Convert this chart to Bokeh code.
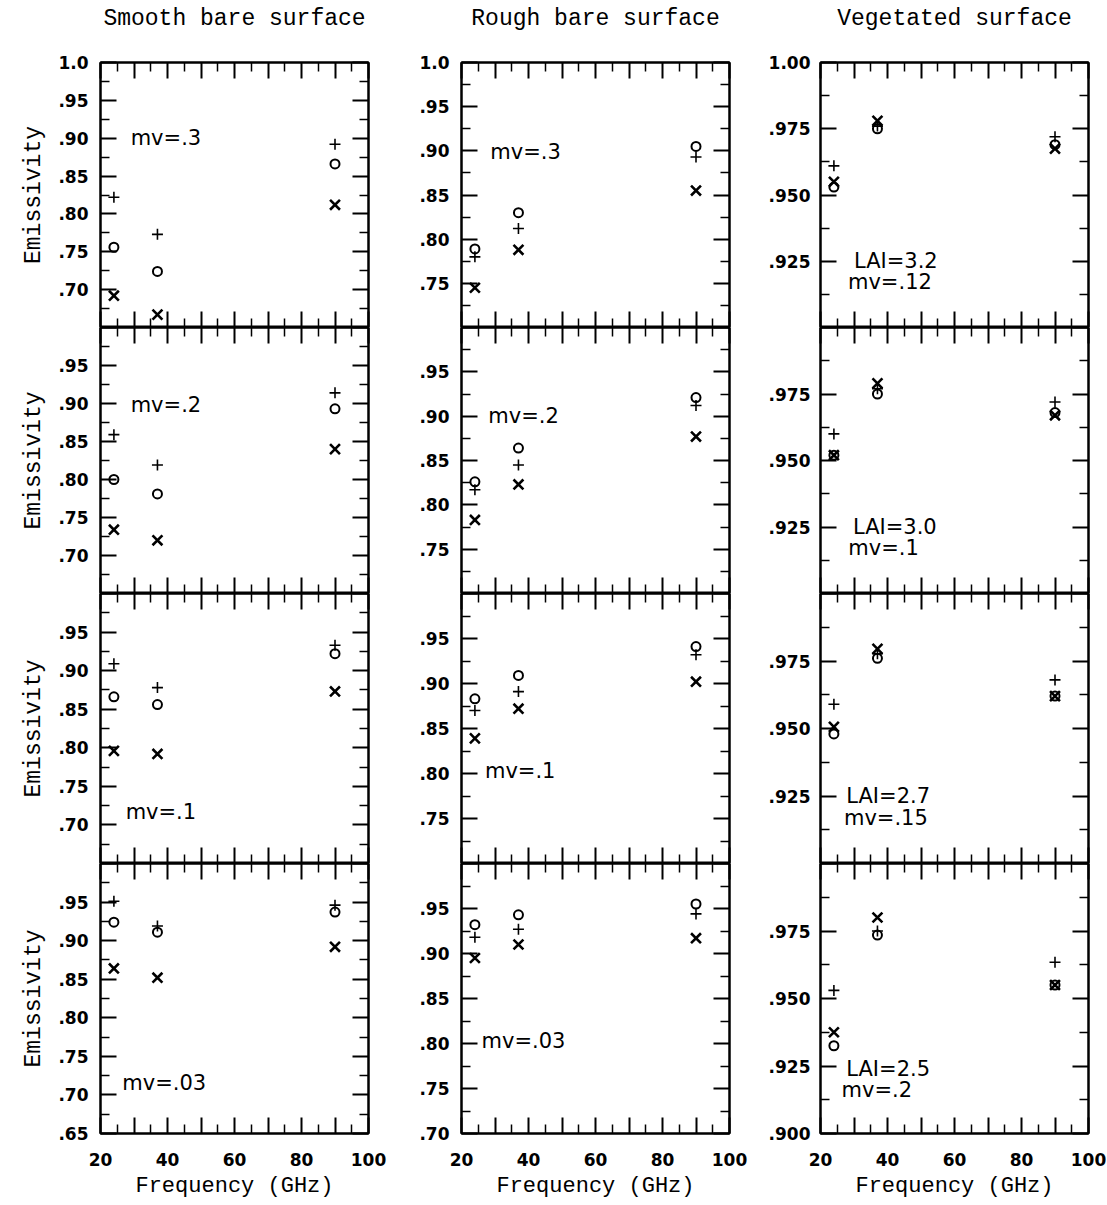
from bokeh.plotting import figure
from bokeh.models import FixedTicker, LinearAxis, Label, Range1d
from bokeh.core.properties import value
from bokeh.layouts import row, column
from bokeh.embed import file_html
from bokeh.resources import INLINE

# ---------------- data ----------------
freq_ghz = [24, 37, 90]

column_titles = ["Smooth bare surface", "Rough bare surface", "Vegetated surface"]

x_range = [20, 100]
x_ticks = [20, 30, 40, 50, 60, 70, 80, 90, 100]
x_minor_ticks = [25, 35, 45, 55, 65, 75, 85, 95]
x_tick_labels = ["20", "", "40", "", "60", "", "80", "", "100"]
x_title = "Frequency (GHz)"
y_title = "Emissivity"

# Smooth bare surface (rows top -> bottom: mv=.3, .2, .1, .03)
smooth_plus = [[0.822, 0.773, 0.892], [0.859, 0.819, 0.914], [0.909, 0.878, 0.933], [0.951, 0.919, 0.946]]
smooth_circle = [[0.756, 0.724, 0.866], [0.800, 0.781, 0.893], [0.866, 0.856, 0.922], [0.924, 0.911, 0.937]]
smooth_cross = [[0.692, 0.667, 0.812], [0.734, 0.720, 0.840], [0.796, 0.792, 0.873], [0.864, 0.852, 0.892]]
smooth_notes = [["mv=.3"], ["mv=.2"], ["mv=.1"], ["mv=.03"]]
smooth_note_x = [[29.0], [29.0], [27.5], [26.5]]
smooth_note_y = [[0.900], [0.898], [0.717], [0.715]]
smooth_y_range = [0.65, 1.0]
smooth_y_ticks = [0.65, 0.70, 0.75, 0.80, 0.85, 0.90, 0.95, 1.0]
smooth_y_minor = [0.675, 0.725, 0.775, 0.825, 0.875, 0.925, 0.975]
smooth_y_labels = [".65", ".70", ".75", ".80", ".85", ".90", ".95", "1.0"]

# Rough bare surface
rough_plus = [[0.780, 0.812, 0.893], [0.817, 0.845, 0.912], [0.870, 0.891, 0.932], [0.918, 0.927, 0.944]]
rough_circle = [[0.789, 0.830, 0.905], [0.826, 0.864, 0.921], [0.883, 0.909, 0.941], [0.932, 0.943, 0.955]]
rough_cross = [[0.745, 0.788, 0.855], [0.783, 0.823, 0.877], [0.839, 0.872, 0.902], [0.895, 0.910, 0.917]]
rough_notes = [["mv=.3"], ["mv=.2"], ["mv=.1"], ["mv=.03"]]
rough_note_x = [[28.6], [28.0], [27.0], [26.0]]
rough_note_y = [[0.899], [0.900], [0.803], [0.803]]
rough_y_range = [0.70, 1.0]
rough_y_ticks = [0.70, 0.75, 0.80, 0.85, 0.90, 0.95, 1.0]
rough_y_minor = [0.725, 0.775, 0.825, 0.875, 0.925, 0.975]
rough_y_labels = [".70", ".75", ".80", ".85", ".90", ".95", "1.0"]

# Vegetated surface
veg_plus = [[0.961, 0.976, 0.972], [0.960, 0.977, 0.972], [0.959, 0.9777, 0.968], [0.953, 0.975, 0.9634]]
veg_circle = [[0.953, 0.975, 0.969], [0.952, 0.975, 0.968], [0.948, 0.976, 0.962], [0.9325, 0.9735, 0.955]]
veg_cross = [[0.955, 0.978, 0.9675], [0.952, 0.979, 0.967], [0.9506, 0.9795, 0.962], [0.9375, 0.980, 0.955]]
veg_notes = [["LAI=3.2", "mv=.12"], ["LAI=3.0", "mv=.1"], ["LAI=2.7", "mv=.15"], ["LAI=2.5", "mv=.2"]]
veg_note_x = [[30.0, 28.2], [29.7, 28.3], [27.7, 27.0], [27.7, 26.3]]
veg_note_y = [[0.925, 0.917], [0.925, 0.917], [0.925, 0.9167], [0.924, 0.916]]
veg_y_range = [0.90, 1.00]
veg_y_ticks = [0.900, 0.925, 0.950, 0.975, 1.000]
veg_y_minor = [0.9125, 0.9375, 0.9625, 0.9875]
veg_y_labels = [".900", ".925", ".950", ".975", "1.00"]

# ---------------- style / layout ----------------
TITLE_FONT = "Liberation Mono"
TICK_FONT = "DejaVu Sans"
NOTE_FONT = "DejaVu Sans"

FRAME_W = 268
ROW_H = [265, 266, 270, 270]
HEADER_H = 48
TOP_BORDER = 14
TITLE_FROM_TOP = 18
BORDER_L = [100, 73, 71]
BORDER_R = [20, 20, 18]
BORDER_B = 66
Y_STANDOFF = [12, 12, 10]


def style_axis(ax, labels, standoff=12):
    ax.axis_line_color = "black"
    ax.axis_line_width = 2
    ax.major_tick_line_color = "black"
    ax.major_tick_line_width = 2
    ax.minor_tick_line_color = "black"
    ax.minor_tick_line_width = 1.5
    ax.major_tick_in = 16
    ax.major_tick_out = 0
    ax.minor_tick_in = 9
    ax.minor_tick_out = 0
    if labels:
        ax.major_label_text_font = TICK_FONT
        ax.major_label_text_font_size = "17px"
        ax.major_label_text_font_style = "bold"
        ax.major_label_text_color = "black"
        ax.major_label_standoff = standoff
    else:
        ax.major_label_text_font_size = "0px"
        ax.major_label_text_color = None
        ax.major_label_text_alpha = 0
        ax.major_label_standoff = 0


specs = [
    dict(plus=smooth_plus, circle=smooth_circle, cross=smooth_cross, notes=smooth_notes,
         nx=smooth_note_x, ny=smooth_note_y, yr=smooth_y_range, yt=smooth_y_ticks,
         ym=smooth_y_minor, yl=smooth_y_labels),
    dict(plus=rough_plus, circle=rough_circle, cross=rough_cross, notes=rough_notes,
         nx=rough_note_x, ny=rough_note_y, yr=rough_y_range, yt=rough_y_ticks,
         ym=rough_y_minor, yl=rough_y_labels),
    dict(plus=veg_plus, circle=veg_circle, cross=veg_cross, notes=veg_notes,
         nx=veg_note_x, ny=veg_note_y, yr=veg_y_range, yt=veg_y_ticks,
         ym=veg_y_minor, yl=veg_y_labels),
]

columns = []
for c, s in enumerate(specs):
    # header strip holding the column title
    h = figure(frame_width=FRAME_W, frame_height=HEADER_H,
               x_range=Range1d(0, 1), y_range=Range1d(0, HEADER_H),
               x_axis_type=None, y_axis_type=None, title=None,
               output_backend="svg", toolbar_location=None,
               min_border_left=BORDER_L[c], min_border_right=BORDER_R[c],
               min_border_top=0, min_border_bottom=0,
               background_fill_color="white", border_fill_color="white")
    h.outline_line_color = None
    h.grid.visible = False
    h.text(x=[0.5], y=[HEADER_H - TITLE_FROM_TOP], text=[column_titles[c]],
           text_font=value(TITLE_FONT), text_font_size="23px", text_color="black",
           text_align="center", text_baseline="middle")
    figs = [h]
    for r in range(4):
        top = r == 0
        bottom = r == 3
        p = figure(frame_width=FRAME_W, frame_height=ROW_H[r],
                   x_range=Range1d(x_range[0], x_range[1]),
                   y_range=Range1d(s["yr"][0], s["yr"][1]),
                   x_axis_type=None, y_axis_type=None, title=None,
                   output_backend="svg", toolbar_location=None,
                   min_border_left=BORDER_L[c], min_border_right=BORDER_R[c],
                   min_border_top=TOP_BORDER if top else 0,
                   min_border_bottom=BORDER_B if bottom else 0,
                   background_fill_color="white", border_fill_color="white")
        p.outline_line_color = "black"
        p.outline_line_width = 2

        xt = FixedTicker(ticks=x_ticks, minor_ticks=x_minor_ticks)
        yt = FixedTicker(ticks=s["yt"], minor_ticks=s["ym"])

        bx = LinearAxis(ticker=xt)
        style_axis(bx, bottom, 19)
        if bottom:
            bx.major_label_overrides = dict(zip(x_ticks, x_tick_labels))
            bx.axis_label = x_title
            bx.axis_label_text_font = TITLE_FONT
            bx.axis_label_text_font_size = "22px"
            bx.axis_label_text_font_style = "normal"
            bx.axis_label_text_color = "black"
            bx.axis_label_standoff = 5
        p.add_layout(bx, "below")

        tx = LinearAxis(ticker=xt)
        style_axis(tx, False)
        p.add_layout(tx, "above")

        ly = LinearAxis(ticker=yt)
        style_axis(ly, True, Y_STANDOFF[c])
        labels = list(s["yl"])
        if not bottom:
            labels[0] = ""
        if not top:
            labels[-1] = ""
        ly.major_label_overrides = dict(zip(s["yt"], labels))
        if c == 0:
            ly.axis_label = y_title
            ly.axis_label_text_font = TITLE_FONT
            ly.axis_label_text_font_size = "23px"
            ly.axis_label_text_font_style = "normal"
            ly.axis_label_text_color = "black"
            ly.axis_label_standoff = 8
        p.add_layout(ly, "left")

        ry = LinearAxis(ticker=yt)
        style_axis(ry, False)
        p.add_layout(ry, "right")

        p.scatter(freq_ghz, s["plus"][r], marker="cross", size=11,
                  line_color="black", line_width=1.6)
        p.scatter(freq_ghz, s["circle"][r], marker="circle", size=9,
                  fill_color=None, line_color="black", line_width=2)
        p.scatter(freq_ghz, s["cross"][r], marker="x", size=14,
                  line_color="black", line_width=2.6)

        for txt, tx_, ty_ in zip(s["notes"][r], s["nx"][r], s["ny"][r]):
            p.add_layout(Label(x=tx_, y=ty_, text=txt, text_font=NOTE_FONT,
                               text_font_size="21px", text_color="black",
                               text_baseline="middle", text_align="left"))
        figs.append(p)
    columns.append(column(*figs, spacing=0))

layout = row(*columns, spacing=0)

open("out.html", "w").write(file_html(layout, INLINE))
